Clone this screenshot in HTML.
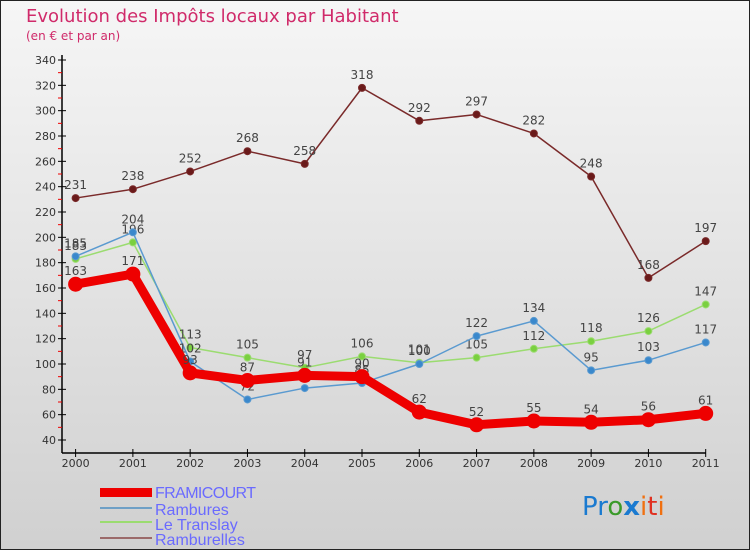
<!DOCTYPE html>
<html><head><meta charset="utf-8"><style>
body{margin:0;}
#c{width:750px;height:550px;position:relative;font-family:"DejaVu Sans","Liberation Sans",sans-serif;}
</style></head><body>
<div id="c">
<svg id="svg" width="750" height="550" xmlns="http://www.w3.org/2000/svg">
<defs><linearGradient id="bg" x1="0" y1="0" x2="0" y2="1"><stop offset="0" stop-color="#f6f6f6"/><stop offset="1" stop-color="#d0d0d0"/></linearGradient></defs>
<rect x="0.5" y="0.5" width="749" height="549" fill="url(#bg)" stroke="#222"/>
<text x="26" y="22" font-size="18" fill="#d02a6a">Evolution des Impôts locaux par Habitant</text>
<text x="26" y="40" font-size="12" fill="#d02a6a">(en € et par an)</text>
<g id="axes"></g><g id="series"></g>
<g font-family="Liberation Sans, sans-serif">
<rect x="100" y="488" width="52" height="9" fill="#e00"/>
<text x="155" y="498" font-size="16" fill="#6a6aff" textLength="101">FRAMICOURT</text>
<line x1="100" y1="508" x2="152" y2="508" stroke="#6fa0c6" stroke-width="2"/>
<text x="155" y="515" font-size="16" fill="#6a6aff">Rambures</text>
<line x1="100" y1="522" x2="152" y2="522" stroke="#9bdc70" stroke-width="2"/>
<text x="155" y="530" font-size="16" fill="#6a6aff">Le Translay</text>
<line x1="100" y1="538" x2="152" y2="538" stroke="#9b6a6a" stroke-width="2"/>
<text x="155" y="545" font-size="16" fill="#6a6aff">Ramburelles</text>
</g>
<text x="582" y="515" font-size="26"><tspan fill="#1a7ad0">Pr</tspan><tspan fill="#3a9a2a">o</tspan><tspan fill="#1a7ad0" font-weight="bold">x</tspan><tspan fill="#f07010">i</tspan><tspan fill="#e03020">t</tspan><tspan fill="#f07010">i</tspan></text>
</svg></div>
<script>
const years=["2000","2001","2002","2003","2004","2005","2006","2007","2008","2009","2010","2011"];
const framicourt=[163,171,93,87,91,90,62,52,55,54,56,61];
const rambures=[185,204,102,72,81,85,100,122,134,95,103,117];
const translay=[183,196,113,105,97,106,101,105,112,118,126,147];
const ramburelles=[231,238,252,268,258,318,292,297,282,248,168,197];
const yTicks=[40,60,80,100,120,140,160,180,200,220,240,260,280,300,320,340];
const NS="http://www.w3.org/2000/svg";
const X=i=>75.6+i*(705.7-75.6)/(years.length-1);
const Y=v=>440-(v-40)*380/300;
function mk(t,a,p){const e=document.createElementNS(NS,t);for(const k in a)e.setAttribute(k,a[k]);p.appendChild(e);return e;}
const ax=document.getElementById('axes');
let yl=mk('line',{x1:62,y1:55,x2:62,y2:453,stroke:'#000','stroke-width':1.5},ax);


let xl=mk('line',{x1:62,y1:453,x2:706,y2:453,stroke:'#000','stroke-width':1.5},ax);


yTicks.forEach(v=>{
 mk('line',{x1:58,y1:Y(v),x2:66,y2:Y(v),stroke:'#000'},ax);
 if(v<340)mk('line',{x1:58,y1:Y(v+10),x2:62,y2:Y(v+10),stroke:'#e00'},ax);
 const t=mk('text',{x:56,y:Y(v)+4,'font-size':11,'text-anchor':'end',fill:'#333'},ax);t.textContent=v;
 
 
});
years.forEach((y,i)=>{
 mk('line',{x1:X(i),y1:449,x2:X(i),y2:457,stroke:'#000'},ax);
 const t=mk('text',{x:X(i),y:467,'font-size':11,'text-anchor':'middle',fill:'#333'},ax);t.textContent=y;
 
 
});
const sg=document.getElementById('series');
function series(data,color,dot,w,r,name){
 const g=mk('g',{},sg);
 
 
 const pl=mk('polyline',{points:data.map((v,i)=>X(i)+','+Y(v)).join(' '),fill:'none',stroke:color,'stroke-width':w,'stroke-linejoin':'round'},g);
 
 
 data.forEach((v,i)=>{
  const c=mk('circle',{cx:X(i),cy:Y(v),r:r,fill:dot,stroke:color,'stroke-width':1},g);
  
  
  const t=mk('text',{x:X(i),y:Y(v)-9,'font-size':12,'text-anchor':'middle',fill:'#444'},g);t.textContent=v;
  
  
 });
}
series(ramburelles,'#7a2a2a','#6a1a1a',1.5,3.5,'ramburelles');
series(translay,'#9bdc70','#7ad040',1.5,3.5,'le-translay');
series(rambures,'#5a9ad0','#3a88cc',1.5,3.5,'rambures');
series(framicourt,'#e00','#e00',9,7,'framicourt');
</script>
</body></html>
